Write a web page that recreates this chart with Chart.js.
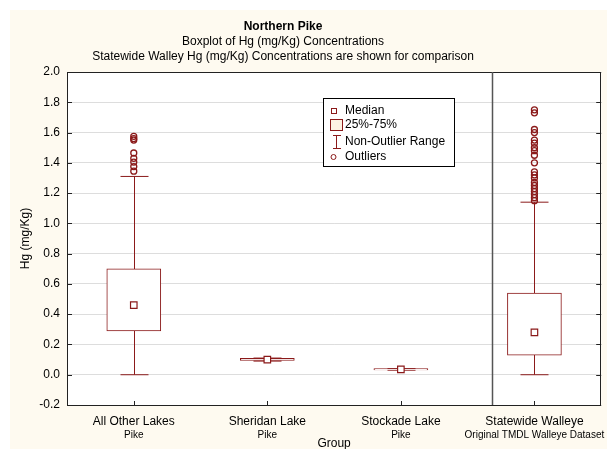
<!DOCTYPE html>
<html><head><meta charset="utf-8">
<script src="https://cdn.jsdelivr.net/npm/chart.js@4.4.1/dist/chart.umd.min.js"></script>
<style>html,body{margin:0;padding:0;background:#fff}#wrap{width:607px;height:449px}</style>
</head><body><div id="wrap"><canvas id="c" width="607" height="449"></canvas></div>
<script>
// Northern Pike mercury boxplot data (mg/Kg)
const groups = ['All Other Lakes', 'Sheridan Lake', 'Stockade Lake', 'Statewide Walleye'];
const subLabels = ['Pike', 'Pike', 'Pike', 'Original TMDL Walleye Dataset'];
const medians = [0.46, 0.10, 0.035, 0.28];
const q1 = [0.29, 0.094, 0.031, 0.13];
const q3 = [0.70, 0.108, 0.040, 0.54];
const whiskerLow = [0.0, 0.09, 0.03, 0.0];
const whiskerHigh = [1.31, 0.11, 0.04, 1.14];
const outliersOther = [1.345, 1.375, 1.405, 1.43, 1.465, 1.55, 1.56, 1.575];
const outliersWalleye = [1.15, 1.17, 1.19, 1.21, 1.23, 1.25, 1.27, 1.30, 1.32, 1.34, 1.40, 1.45, 1.48, 1.50, 1.53, 1.55, 1.60, 1.62, 1.73, 1.75];
const yTicks = [-0.2, 0.0, 0.2, 0.4, 0.6, 0.8, 1.0, 1.2, 1.4, 1.6, 1.8, 2.0];
const titleLines = ['Northern Pike', 'Boxplot of Hg (mg/Kg) Concentrations', 'Statewide Walley Hg (mg/Kg) Concentrations are shown for comparison'];
const legendItems = ['Median', '25%-75%', 'Non-Outlier Range', 'Outliers'];

const RED = '#8B1A1A';
const FONT = '"Liberation Sans", Arial, sans-serif';
Chart.defaults.font.family = FONT;
Chart.defaults.color = '#000';

const decor = {
  id: 'decor',
  beforeDraw(chart) {
    const { ctx, chartArea: a } = chart;
    ctx.save();
    ctx.fillStyle = '#fff';
    ctx.fillRect(0, 0, chart.width, chart.height);
    ctx.fillStyle = '#FEFAF0';
    ctx.fillRect(10, 10, chart.width - 10, chart.height - 10);
    ctx.fillStyle = '#fff';
    ctx.fillRect(a.left, a.top, a.right - a.left, a.bottom - a.top);
    ctx.restore();
  },
  beforeDatasetsDraw(chart) {
    // whiskers behind the boxes
    const { ctx, scales: { x, y } } = chart;
    ctx.save();
    ctx.strokeStyle = RED;
    ctx.lineWidth = 1;
    groups.forEach((g, i) => {
      const cx = Math.round(x.getPixelForValue(i)) + 0.5;
      const yl = y.getPixelForValue(whiskerLow[i]);
      const yh = y.getPixelForValue(whiskerHigh[i]);
      ctx.beginPath();
      ctx.moveTo(cx, yl); ctx.lineTo(cx, yh);
      ctx.moveTo(cx - 14, yl); ctx.lineTo(cx + 14, yl);
      ctx.moveTo(cx - 14, yh); ctx.lineTo(cx + 14, yh);
      ctx.stroke();
    });
    ctx.restore();
  },
  afterDatasetsDraw(chart) {
    const { ctx, chartArea: a, scales: { x, y } } = chart;
    ctx.save();
    // frame
    ctx.strokeStyle = '#222';
    ctx.lineWidth = 1;
    ctx.strokeRect(Math.round(a.left) + 0.5, Math.round(a.top) + 0.5, Math.round(a.right - a.left) - 1, Math.round(a.bottom - a.top));
    // inward tick marks
    ctx.beginPath();
    yTicks.forEach(v => {
      const py = Math.round(y.getPixelForValue(v)) + 0.5;
      ctx.moveTo(a.left, py); ctx.lineTo(a.left + 5, py);
      ctx.moveTo(a.right - 5, py); ctx.lineTo(a.right, py);
    });
    groups.forEach((g, i) => {
      const px = Math.round(x.getPixelForValue(i)) + 0.5;
      ctx.moveTo(px, a.bottom); ctx.lineTo(px, a.bottom - 4);
    });
    ctx.stroke();
    // separator before the comparison group
    const sx = Math.round(x.getPixelForValue(2.68)) + 0.5;
    ctx.strokeStyle = '#555';
    ctx.lineWidth = 1.5;
    ctx.beginPath();
    ctx.moveTo(sx, a.top); ctx.lineTo(sx, a.bottom);
    ctx.stroke();
    ctx.restore();
  },
  afterDraw(chart) {
    const { ctx, scales: { x } } = chart;
    ctx.save();
    ctx.fillStyle = '#000';
    ctx.textAlign = 'center';
    ctx.textBaseline = 'middle';
    ctx.font = 'bold 12px ' + FONT;
    ctx.fillText(titleLines[0], 283, 27);
    ctx.font = '12px ' + FONT;
    ctx.fillText(titleLines[1], 283, 42);
    ctx.fillText(titleLines[2], 283, 57);
    // second line of the category labels
    ctx.font = '10px ' + FONT;
    subLabels.forEach((s, i) => ctx.fillText(s, x.getPixelForValue(i), 435));

    // legend
    const lx = 323, ly = 98, lw = 131, lh = 68;
    ctx.fillStyle = '#fff';
    ctx.fillRect(lx, ly, lw, lh);
    ctx.strokeStyle = '#000';
    ctx.lineWidth = 1;
    ctx.strokeRect(lx + 0.5, ly + 0.5, lw, lh);
    const rows = [111, 125, 142, 157];
    ctx.strokeStyle = RED;
    // median symbol
    ctx.strokeRect(331.5, rows[0] - 2.5, 5, 5);
    // box symbol
    ctx.fillStyle = '#FDF3E3';
    ctx.fillRect(330.5, rows[1] - 5.5, 12, 11);
    ctx.strokeRect(330.5, rows[1] - 5.5, 12, 11);
    // whisker symbol
    ctx.beginPath();
    ctx.moveTo(336.5, rows[2] - 6); ctx.lineTo(336.5, rows[2] + 6);
    ctx.moveTo(333, rows[2] - 6.5); ctx.lineTo(341, rows[2] - 6.5);
    ctx.moveTo(333, rows[2] + 6.5); ctx.lineTo(341, rows[2] + 6.5);
    ctx.stroke();
    // outlier symbol
    ctx.beginPath();
    ctx.arc(333.5, rows[3], 2.5, 0, Math.PI * 2);
    ctx.stroke();
    ctx.fillStyle = '#000';
    ctx.textAlign = 'left';
    ctx.font = '12px ' + FONT;
    legendItems.forEach((t, i) => ctx.fillText(t, 345, rows[i]));
    ctx.restore();
  }
};

new Chart(document.getElementById('c'), {
  type: 'bar',
  data: {
    labels: groups,
    datasets: [
      {
        label: 'Median',
        type: 'line',
        showLine: false,
        data: medians,
        pointStyle: 'rect',
        pointRadius: 4.6,
        pointBackgroundColor: '#fff',
        pointBorderColor: RED,
        pointBorderWidth: 1.2,
        order: 0
      },
      {
        label: 'Outliers',
        type: 'line',
        showLine: false,
        data: outliersOther.map(v => ({ x: groups[0], y: v }))
          .concat(outliersWalleye.map(v => ({ x: groups[3], y: v }))),
        pointStyle: 'circle',
        pointRadius: 3,
        pointBackgroundColor: 'rgba(255,255,255,0)',
        pointBorderColor: RED,
        pointBorderWidth: 1.3,
        order: 1
      },
      {
        label: '25%-75%',
        data: groups.map((g, i) => [q1[i], q3[i]]),
        backgroundColor: '#fff',
        borderColor: RED,
        borderWidth: 1,
        borderSkipped: false,
        barThickness: 54,
        order: 2
      }
    ]
  },
  options: {
    responsive: false,
    animation: false,
    layout: { padding: { top: 72, right: 2, left: 0, bottom: 0 } },
    plugins: { legend: { display: false }, tooltip: { enabled: false } },
    scales: {
      x: {
        type: 'category',
        offset: true,
        grid: { display: false, drawTicks: false },
        border: { display: false },
        ticks: { font: { size: 12 }, padding: 9, maxRotation: 0, autoSkip: false },
        title: { display: true, text: 'Group', font: { size: 12 }, padding: { top: 0, bottom: -2 } },
        afterFit(s) { s.height = 44; }
      },
      y: {
        min: -0.2,
        max: 2.0,
        afterBuildTicks(s) { s.ticks = yTicks.map(v => ({ value: v })); },
        grid: { color: '#DDDDDD', drawTicks: false },
        border: { display: false },
        ticks: {
          font: { size: 12 },
          padding: 7,
          callback: v => (Math.abs(v) < 1e-9 ? 0 : v).toFixed(1)
        },
        title: { display: true, text: 'Hg (mg/Kg)', font: { size: 12 }, padding: { top: 18, bottom: 0 } },
        afterFit(s) { s.width = 67; }
      }
    }
  },
  plugins: [decor]
});
</script>
</body></html>
